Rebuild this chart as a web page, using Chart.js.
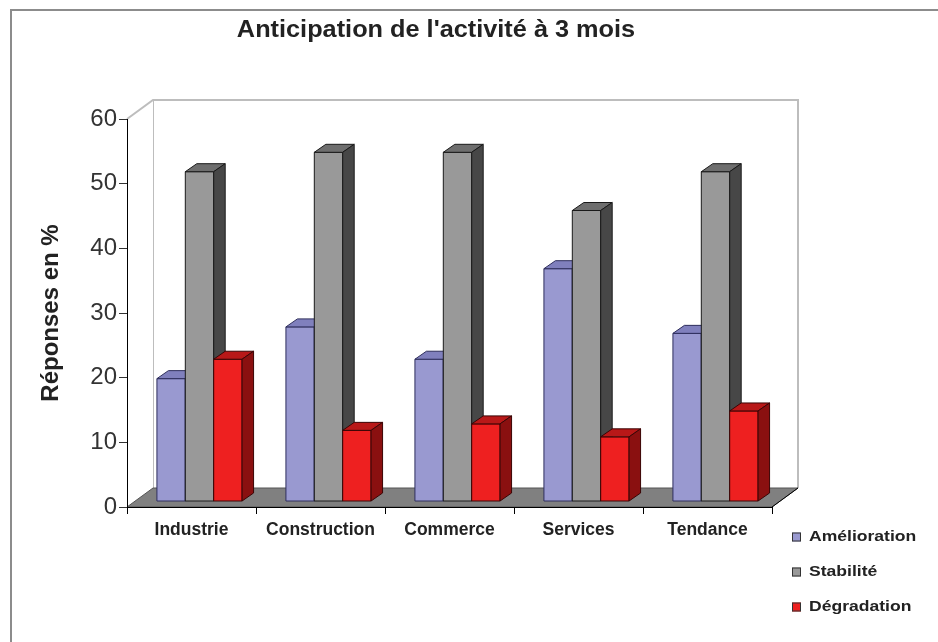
<!DOCTYPE html>
<html>
<head>
<meta charset="utf-8">
<script src="https://cdn.jsdelivr.net/npm/chart.js@4"></script>
<style>
  body { margin: 0; background: #fff; }
  #wrap { width: 938px; height: 642px; position: relative; }
</style>
</head>
<body>
<div id="wrap"><canvas id="activiteChart"></canvas></div>
<script>
const categories = ['Industrie', 'Construction', 'Commerce', 'Services', 'Tendance'];
const seriesNames = ['Amélioration', 'Stabilité', 'Dégradation'];
const amelioration = [19, 27, 22, 36, 26];
const stabilite = [51, 54, 54, 45, 51];
const degradation = [22, 11, 12, 10, 14];
const yTicks = [0, 10, 20, 30, 40, 50, 60];

// front, top, side, outline
const faceColors = [
    ['#9999d0', '#8080bd', '#5c5c94', '#2e2e5c'],
    ['#999999', '#6e6e6e', '#474747', '#1a1a1a'],
    ['#ee2020', '#b81818', '#8a1010', '#3a0505']
];

const FONT = '"Liberation Sans", Arial, sans-serif';
const WALL = { dx: 26, dy: -19 };      // depth of the whole 3D box
const BAR = { ox: 8, oy: -5.5, dx: 11.5, dy: -8 }; // bar position / depth

const ctx = document.getElementById('activiteChart').getContext('2d');

// text a bit wider than the font, like the original picture
function wideText(c, text, x, y, stretch) {
    c.save();
    c.translate(x, y);
    c.scale(stretch, 1);
    c.fillText(text, 0, 0);
    c.restore();
}

const box3d = {
    id: 'box3d',
    beforeDraw(chart) {
        const c = chart.ctx;
        const a = chart.chartArea;
        c.save();
        c.fillStyle = '#fff';
        c.fillRect(0, 0, chart.width, chart.height);
        // frame
        c.strokeStyle = '#8c8c8c';
        c.lineWidth = 2;
        c.beginPath();
        c.moveTo(11, chart.height);
        c.lineTo(11, 10);
        c.lineTo(chart.width, 10);
        c.stroke();
        // title
        c.fillStyle = '#222';
        c.font = 'bold 23px ' + FONT;
        c.textAlign = 'center';
        c.textBaseline = 'middle';
        wideText(c, "Anticipation de l'activité à 3 mois", 436, 31, 1.1);
        // walls
        c.strokeStyle = '#bdbdbd';
        c.lineWidth = 2;
        c.beginPath();
        c.moveTo(a.left, a.top);
        c.lineTo(a.left + WALL.dx, a.top + WALL.dy);
        c.lineTo(a.right + WALL.dx, a.top + WALL.dy);
        c.lineTo(a.right + WALL.dx, a.bottom + WALL.dy);
        c.stroke();
        c.lineWidth = 1;
        c.beginPath();
        c.moveTo(a.left + WALL.dx + 0.5, a.top + WALL.dy);
        c.lineTo(a.left + WALL.dx + 0.5, a.bottom + WALL.dy);
        c.stroke();
        // floor
        c.fillStyle = '#808080';
        c.strokeStyle = '#555';
        c.beginPath();
        c.moveTo(a.left, a.bottom);
        c.lineTo(a.right, a.bottom);
        c.lineTo(a.right + WALL.dx, a.bottom + WALL.dy);
        c.lineTo(a.left + WALL.dx, a.bottom + WALL.dy);
        c.closePath();
        c.fill();
        c.stroke();
        c.strokeStyle = '#000';
        c.beginPath();
        c.moveTo(a.right, a.bottom);
        c.lineTo(a.right + WALL.dx, a.bottom + WALL.dy);
        c.stroke();
        c.restore();
    },
    beforeDatasetsDraw(chart) {
        const c = chart.ctx;
        c.save();
        c.lineWidth = 1;
        c.lineJoin = 'round';
        const n = chart.data.labels.length;
        for (let i = 0; i < n; i++) {
            chart.data.datasets.forEach((ds, j) => {
                const bar = chart.getDatasetMeta(j).data[i];
                const col = faceColors[j];
                const l = bar.x - bar.width / 2 + BAR.ox;
                const r = bar.x + bar.width / 2 + BAR.ox;
                const t = bar.y + BAR.oy;
                const b = bar.base + BAR.oy;
                c.strokeStyle = col[3];
                // front
                c.fillStyle = col[0];
                c.fillRect(l, t, r - l, b - t);
                c.strokeRect(l, t, r - l, b - t);
                // top
                c.fillStyle = col[1];
                c.beginPath();
                c.moveTo(l, t);
                c.lineTo(l + BAR.dx, t + BAR.dy);
                c.lineTo(r + BAR.dx, t + BAR.dy);
                c.lineTo(r, t);
                c.closePath();
                c.fill();
                c.stroke();
                // side
                c.fillStyle = col[2];
                c.beginPath();
                c.moveTo(r, t);
                c.lineTo(r + BAR.dx, t + BAR.dy);
                c.lineTo(r + BAR.dx, b + BAR.dy);
                c.lineTo(r, b);
                c.closePath();
                c.fill();
                c.stroke();
            });
        }
        c.restore();
        return false;
    },
    afterDraw(chart) {
        const c = chart.ctx;
        c.save();
        c.font = 'bold 15px ' + FONT;
        c.textBaseline = 'middle';
        c.textAlign = 'left';
        chart.data.datasets.forEach((ds, j) => {
            const y = 537 + j * 35;
            c.fillStyle = faceColors[j][0];
            c.fillRect(792, y - 4.5, 9, 9);
            c.strokeStyle = '#333';
            c.strokeRect(792.5, y - 4, 8, 8);
            c.fillStyle = '#222';
            wideText(c, ds.label, 809, y, 1.17);
        });
        c.restore();
    }
};

const activiteChart = new Chart(ctx, {
    type: 'bar',
    data: {
        labels: categories,
        datasets: [
            { label: seriesNames[0], data: amelioration, backgroundColor: faceColors[0][0] },
            { label: seriesNames[1], data: stabilite, backgroundColor: faceColors[1][0] },
            { label: seriesNames[2], data: degradation, backgroundColor: faceColors[2][0] }
        ]
    },
    options: {
        responsive: true,
        maintainAspectRatio: false,
        devicePixelRatio: 1,
        animation: false,
        categoryPercentage: 0.66,
        barPercentage: 1,
        layout: {
            padding: { left: 0, top: 119, right: 166, bottom: 0 }
        },
        plugins: {
            legend: { display: false },
            title: { display: false },
            tooltip: { enabled: false }
        },
        scales: {
            y: {
                min: 0,
                max: 60,
                afterFit(scale) { scale.width = 127; },
                afterBuildTicks(scale) { scale.ticks = yTicks.map(v => ({ value: v })); },
                border: { display: true, color: '#000', width: 1 },
                grid: { drawOnChartArea: false, tickLength: 8, color: '#333' },
                ticks: {
                    padding: 2,
                    color: '#333',
                    font: { family: FONT, size: 24 }
                },
                title: {
                    display: true,
                    text: 'Réponses en %',
                    color: '#222',
                    padding: { top: 37, bottom: 0 },
                    font: { family: FONT, size: 24, weight: 'bold' }
                }
            },
            x: {
                afterFit(scale) { scale.height = 135; },
                border: { display: true, color: '#000', width: 1 },
                grid: { drawOnChartArea: false, tickLength: 7, color: '#000', offset: true },
                ticks: {
                    padding: 6,
                    color: '#222',
                    font: { family: FONT, size: 17.5, weight: 'bold' }
                }
            }
        }
    },
    plugins: [box3d]
});
</script>
</body>
</html>
